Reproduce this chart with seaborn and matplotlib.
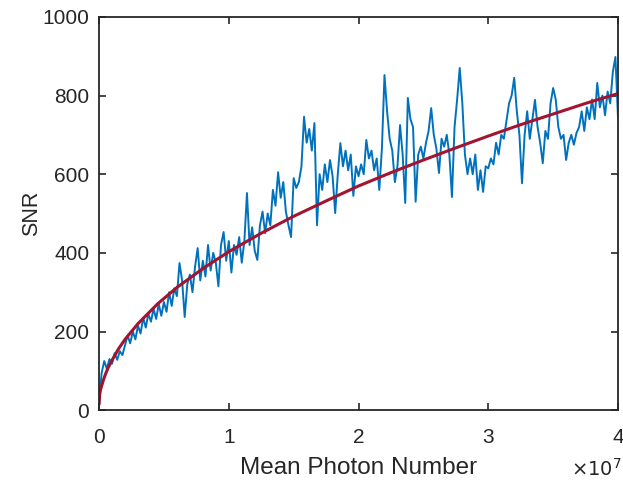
import numpy as np
import pandas as pd
import seaborn as sns
import matplotlib
matplotlib.use("Agg")
import matplotlib.pyplot as plt

sns.set_theme(style="ticks")
plt.rcParams['font.family'] = ['Liberation Sans', 'DejaVu Sans']

# measured SNR, sampled every 0.02 x 1e7 photons (0 .. 4e7)
photon_step = 0.02
snr_measured = [
    15, 95, 125, 105, 130,
    118, 145, 128, 150, 140,
    165, 190, 170, 200, 180,
    215, 195, 235, 210, 245,
    225, 258, 232, 270, 240,
    275, 250, 300, 265, 310,
    290, 374, 330, 237, 320,
    345, 300, 365, 412, 330,
    380, 340, 420, 355, 400,
    375, 315, 420, 453, 380,
    430, 350, 420, 395, 440,
    375, 430, 552, 420, 465,
    405, 382, 470, 505, 450,
    500, 470, 560, 520, 605,
    540, 580, 505, 470, 440,
    590, 565, 580, 620, 746,
    680, 715, 660, 730, 470,
    600, 560, 625, 580, 636,
    595, 501, 600, 679, 620,
    660, 610, 650, 545, 620,
    595, 625, 600, 687, 640,
    660, 610, 640, 560, 665,
    852, 760, 690, 660, 580,
    620, 725, 650, 527, 794,
    740, 720, 530, 650, 670,
    640, 680, 710, 768, 700,
    665, 603, 690, 670, 700,
    650, 542, 720, 790, 870,
    780, 650, 600, 640, 600,
    650, 560, 610, 555, 620,
    615, 640, 625, 680, 650,
    700, 690, 735, 780, 800,
    845, 760, 700, 577, 700,
    760, 690, 740, 789, 720,
    680, 628, 710, 690, 780,
    819, 790, 720, 690, 700,
    636, 680, 700, 675, 705,
    720, 760, 710, 770, 740,
    790, 740, 832, 770, 800,
    750, 810, 780, 860, 898, 743,
]

# fitted curve (x in units of 1e7)
fit_photons = [0, 0.005, 0.01, 0.02, 0.035, 0.05, 0.07, 0.1, 0.15, 0.2, 0.3, 0.45,
               0.6, 0.8, 1.0, 1.25, 1.5, 1.75, 2.0, 2.25, 2.5, 2.75, 3.0, 3.25,
               3.5, 3.75, 4.0]
fit_snr = [15, 40, 50, 62, 78, 92, 108, 127, 156, 180, 220, 270,
           312, 360, 403, 450, 493, 532, 570, 604, 636, 667, 697, 726,
           753, 780, 805]

meas = pd.DataFrame({
    "photons": [i * photon_step for i in range(len(snr_measured))],
    "snr": snr_measured,
})
fit = pd.DataFrame({"photons": fit_photons, "snr": fit_snr})

fig = plt.figure(figsize=(6.23, 4.82), dpi=100)
ax = fig.add_axes([0.159, 0.149, 0.833, 0.816])

sns.lineplot(data=meas, x="photons", y="snr", ax=ax, color="#0072BD", lw=1.4)
sns.lineplot(data=fit, x="photons", y="snr", ax=ax, color="#A2142F", lw=2.2)

ax.set_xlim(0, 4)
ax.set_ylim(0, 1000)
ax.set_xticks([0, 1, 2, 3, 4])
ax.set_yticks([0, 200, 400, 600, 800, 1000])
ax.tick_params(direction="in", length=5, width=1.2, colors="#262626",
               labelsize=15, top=True, right=True)
ax.tick_params(axis="x", pad=13)
ax.tick_params(axis="y", pad=7)
for s in ax.spines.values():
    s.set_linewidth(1.3)
    s.set_color("#262626")
    s.set_visible(True)
ax.set_xlabel("Mean Photon Number", fontsize=17.5, color="#262626", labelpad=7)
ax.set_ylabel("SNR", fontsize=15.5, color="#262626", labelpad=0)
fig.text(0.958, 0.028, r"$\times10^{7}$", fontsize=14, color="#262626",
         ha="center", va="center")

fig.savefig("out.png", dpi=100)
